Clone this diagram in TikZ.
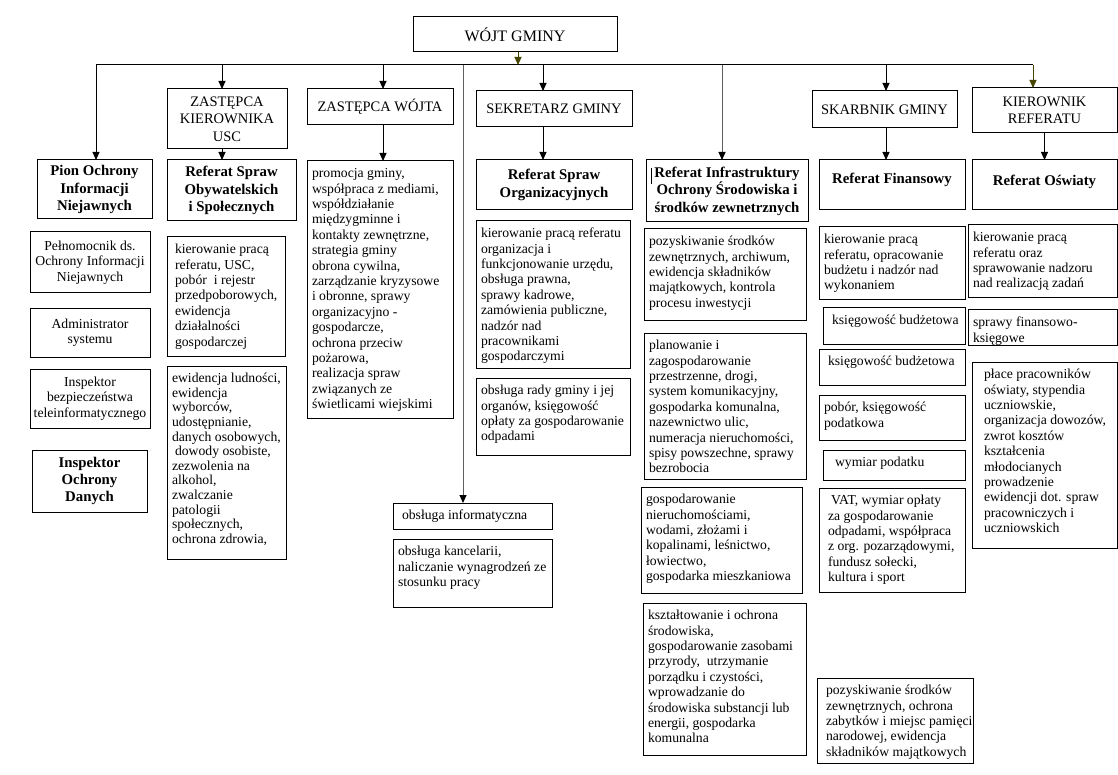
\documentclass[tikz,border=0pt]{standalone}
\usepackage{fontspec}
\setmainfont{Liberation Serif}
\usetikzlibrary{arrows.meta}
\definecolor{olivearr}{RGB}{70,70,0}
\definecolor{lgray}{RGB}{95,95,95}
\newcommand\fbody{\fontsize{13.7}{15.4}\selectfont}
\newcommand\fbodyt{\fontsize{13.7}{14.6}\selectfont}
\newcommand\fhead{\bfseries\fontsize{14.8}{17.4}\selectfont}
\newcommand\ftitle{\fontsize{14.5}{17.5}\selectfont}
\newcommand\ftop{\fontsize{16}{18}\selectfont}
\tikzset{
  box/.style={draw, line width=1pt, inner sep=0pt, outer sep=0pt, anchor=north west},
  txt/.style={anchor=north west, inner sep=0pt, outer sep=0pt},
  arr/.style={line width=1pt, -{Triangle[length=8pt,width=7pt]}},
  garr/.style={line width=1pt, draw=lgray, -{Triangle[length=8pt,width=7pt,color=black]}},
  oarr/.style={line width=1pt, draw=olivearr, -{Triangle[length=8pt,width=7pt,color=olivearr]}}
}
% [extra text options]{name}{x}{y}{w}{h}{text}
\newcommand\tb[7][]{%
  \node[box, minimum width=#5pt, minimum height=#6pt] (#2) at (#3,#4) {};
  \node[txt,#1] at ([xshift=5pt,yshift=-6pt]#2.north west) {\parbox[t]{\dimexpr#5pt-7pt\relax}{\raggedright\fbody\strut #7}};
}
% [font]{name}{x}{y}{w}{h}{text}
\newcommand\cb[7][\fbody]{%
  \node[box, minimum width=#5pt, minimum height=#6pt, align=center, font=#1] (#2) at (#3,#4) {#7};
}
\begin{document}
\begin{tikzpicture}[x=1pt,y=-1pt]
\fill[white] (0,0) rectangle (1118,775);
\useasboundingbox (0,0) rectangle (1118,775);

% top level
\cb[\ftop]{wojt}{413}{17}{204}{35}{WÓJT GMINY}
\cb[\ftitle]{zk}{167}{89}{120}{60}{ZASTĘPCA\\KIEROWNIKA\\USC}
\cb[\ftitle]{zw}{307}{89}{146}{36}{ZASTĘPCA WÓJTA}
\cb[\ftitle]{sek}{476}{91}{156}{36}{SEKRETARZ GMINY}
\cb[\ftitle]{ska}{812}{91}{145}{37}{SKARBNIK GMINY}
\cb[\ftitle]{kier}{972}{88}{145}{45}{KIEROWNIK\\REFERATU}

% bold headers
\cb[\fhead]{pion}{37}{160}{115}{59}{Pion Ochrony\\Informacji\\Niejawnych}
\cb[\fhead]{rso}{167}{160}{129}{61}{Referat Spraw\\Obywatelskich\\i Społecznych}
\cb[\fhead]{rsorg}{476}{160}{156}{50}{Referat Spraw\\Organizacyjnych}
\cb[\fhead]{rinf}{646}{160}{162}{62}{Referat Infrastruktury\\Ochrony Środowiska i\\środków zewnetrznych}
\draw[line width=0.6pt] ([xshift=5pt,yshift=-8pt]rinf.north west) -- ([xshift=5pt,yshift=-24pt]rinf.north west);
\node[box, minimum width=146pt, minimum height=50pt] (rfin) at (819,160) {};
\node[font=\fhead, anchor=north] (rfint) at ([yshift=-10pt]rfin.north) {Referat Finansowy};
\node[box, minimum width=145pt, minimum height=50pt] (rosw) at (972,160) {};
\node[font=\fhead, anchor=north] (roswt) at ([yshift=-12pt]rosw.north) {Referat Oświaty};

% column 1
\cb{pel}{30}{232}{120}{61}{Pełnomocnik ds.\\Ochrony Informacji\\Niejawnych}
\cb{adm}{30}{309}{120}{48}{Administrator\\systemu}
\cb{insp}{30}{369}{120}{59}{Inspektor\\bezpieczeństwa\\teleinformatycznego}
\cb[\fhead]{iod}{32}{450}{115}{62}{Inspektor\\Ochrony\\Danych}

% column 2
\tb[xshift=3pt]{k2}{167}{237}{118}{119}{kierowanie pracą\\referatu, USC,\\pobór\ \ i rejestr\\przedpoborowych,\\ewidencja\\działalności\\gospodarczej}
\tb{e2}{167}{366}{119}{193}{\fbodyt ewidencja ludności,\\ewidencja\\wyborców,\\udostępnianie,\\danych osobowych,\\\hspace*{3pt}dowody osobiste,\\zezwolenia na\\alkohol,\\zwalczanie\\patologii\\społecznych,\\ochrona zdrowia,}

% column 3
\tb{promo}{307}{161}{146}{257}{promocja gminy,\\współpraca z mediami,\\współdziałanie\\międzygminne i\\kontakty zewnętrzne,\\strategia gminy\\obrona cywilna,\\zarządzanie kryzysowe\\i obronne, sprawy\\organizacyjno -\\gospodarcze,\\ochrona przeciw\\pożarowa,\\realizacja spraw\\związanych ze\\świetlicami wiejskimi}

% column 4
\tb{k4}{476}{221}{154}{147}{kierowanie pracą referatu\\organizacja i\\funkcjonowanie urzędu,\\obsługa prawna,\\sprawy kadrowe,\\zamówienia publiczne,\\nadzór nad\\pracownikami\\gospodarczymi}
\tb{o4}{476}{378}{154}{77}{obsługa rady gminy i jej\\organów, księgowość\\opłaty za gospodarowanie\\odpadami}
\tb[xshift=4pt]{inf}{393}{503}{159}{26}{obsługa informatyczna}
\tb{kanc}{393}{539}{159}{68}{obsługa kancelarii,\\naliczanie wynagrodzeń ze\\stosunku pracy}

% column 5
\tb{p5}{644}{229}{162}{91}{pozyskiwanie środków\\zewnętrznych, archiwum,\\ewidencja składników\\majątkowych, kontrola\\procesu inwestycji}
\tb{pl5}{644}{333}{162}{146}{planowanie i\\zagospodarowanie\\przestrzenne, drogi,\\system komunikacyjny,\\gospodarka komunalna,\\nazewnictwo ulic,\\numeracja nieruchomości,\\spisy powszechne, sprawy\\bezrobocia}
\tb{g5}{641}{487}{161}{106}{gospodarowanie\\nieruchomościami,\\wodami, złożami i\\kopalinami, leśnictwo,\\łowiectwo,\\gospodarka mieszkaniowa}
\tb{ks5}{643}{603}{163}{152}{kształtowanie i ochrona\\środowiska,\\gospodarowanie zasobami\\przyrody,\ \ utrzymanie\\porządku i czystości,\\wprowadzanie do\\środowiska substancji lub\\energii, gospodarka\\komunalna}

% column 6
\tb{k6}{819}{227}{146}{73}{kierowanie pracą\\referatu, opracowanie\\budżetu i nadzór nad\\wykonaniem}
\tb[xshift=4pt]{ks1}{823}{308}{142}{36}{księgowość budżetowa}
\tb[xshift=4pt]{ks2}{819}{349}{146}{36}{księgowość budżetowa}
\tb{pob}{819}{395}{146}{45}{pobór, księgowość\\podatkowa}
\tb[xshift=7pt]{wym}{823}{450}{142}{30}{wymiar podatku}
\tb[xshift=4pt]{vat}{819}{488}{146}{104}{\hspace*{3pt}VAT, wymiar opłaty\\za gospodarowanie\\odpadami, współpraca\\z org. pozarządowymi,\\fundusz sołecki,\\kultura i sport}
\tb[xshift=4pt]{poz6}{817}{678}{156}{85}{pozyskiwanie środków\\zewnętrznych, ochrona\\zabytków i miejsc pamięci\\narodowej, ewidencja\\składników majątkowych}

% column 7
\tb{k7}{968}{225}{149}{73}{kierowanie pracą\\referatu oraz\\sprawowanie nadzoru\\nad realizacją zadań}
\tb{sf7}{968}{310}{149}{35}{sprawy finansowo-\\księgowe}
\tb[xshift=7pt]{pl7}{972}{362}{145}{186}{płace pracowników\\oświaty, stypendia\\uczniowskie,\\organizacja dowozów,\\zwrot kosztów\\kształcenia\\młodocianych\\prowadzenie\\ewidencji dot. spraw\\pracowniczych i\\uczniowskich}

% connectors
\coordinate (busL) at (96,65);
\coordinate (busR) at (1033,65);
\coordinate (d2) at (222,65);
\coordinate (d3) at (383,65);
\coordinate (d4) at (463,65);
\coordinate (d5) at (543,65);
\coordinate (d6) at (722,65);
\coordinate (d7) at (886,65);
\draw[line width=1pt] (busL) -- (busR);
\draw[oarr] ([xshift=3pt]wojt.south) -- ([xshift=3pt]wojt.south |- busL);
\draw[arr] (busL) -- (busL |- pion.north);
\draw[arr] (d2) -- (d2 |- zk.north);
\draw[arr] (d3) -- (d3 |- zw.north);
\draw[garr] (d4) -- (d4 |- inf.north);
\draw[arr] (d5) -- (d5 |- sek.north);
\draw[garr] (d6) -- (d6 |- rinf.north);
\draw[arr] (d7) -- (d7 |- ska.north);
\draw[oarr] (busR) -- (busR |- kier.north);

\draw[arr] (d2 |- zk.south) -- (d2 |- rso.north);
\draw[arr] (d3 |- zw.south) -- (d3 |- promo.north);
\draw[arr] (d5 |- sek.south) -- (d5 |- rsorg.north);
\draw[arr] (d7 |- ska.south) -- (d7 |- rfin.north);
\draw[arr] (kier.south) -- (kier.south |- rosw.north);
\end{tikzpicture}
\end{document}
